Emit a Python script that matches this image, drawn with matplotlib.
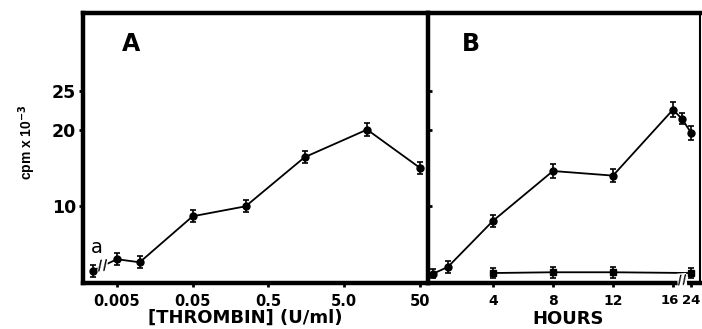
import numpy as np
import matplotlib
matplotlib.use("Agg")
import matplotlib.pyplot as plt
from matplotlib.transforms import offset_copy

plt.rcParams["font.family"] = ["DejaVu Sans"]
plt.rcParams["font.weight"] = "bold"

# panel A: dose response (0 = unstimulated control, point "a")
thrombin = [0, 0.005, 0.01, 0.05, 0.25, 1.5, 10, 50]
cpm_a = [1.6, 3.1, 2.7, 8.7, 10.0, 16.4, 20.0, 15.0]
err_a = [0.8, 0.8, 0.8, 0.8, 0.8, 0.8, 0.8, 0.8]
a_ticks = [0.005, 0.05, 0.5, 5.0, 50]
a_ticklabels = ["0.005", "0.05", "0.5", "5.0", "50"]

# panel B: time course
hours = [0, 1, 4, 8, 12, 16, 20, 24]
cpm_b = [1.2, 2.1, 8.1, 14.6, 14.0, 22.6, 21.4, 19.6]
err_b = [0.6, 0.8, 0.8, 0.9, 0.8, 1.0, 0.7, 0.9]
ctrl_hours = [4, 8, 12, 24]
ctrl_b = [1.3, 1.4, 1.4, 1.3]
ctrl_err = [0.7, 0.7, 0.7, 0.7]
b_ticks = [4, 8, 12, 16, 24]

y_ticks = [10, 20, 25]


def pos_a(c):
    # log scale with the zero control pushed left of an axis break
    c = np.asarray(c, dtype=float)
    return np.where(c > 0, np.log10(np.where(c > 0, c, 1)), -2.62)


def pos_b(h):
    # hours axis is broken after 16 h
    h = np.asarray(h, dtype=float)
    return np.where(h <= 16, h, 16 + (h - 16) * 0.15)


fig = plt.figure(figsize=(7.02, 3.29), dpi=100)
axA = fig.add_axes([83 / 702, 1 - 283 / 329, (428 - 83) / 702, (283 - 13) / 329])
axB = fig.add_axes([428 / 702, 1 - 283 / 329, (700 - 428) / 702, (283 - 13) / 329])
axB.patch.set_alpha(0)

for ax in (axA, axB):
    ax.set_ylim(0, 35.2)
    for s in ("left", "bottom", "top", "right"):
        ax.spines[s].set_linewidth(3.2)
    ax.tick_params(axis="both", length=3, width=2)

# ---- panel A
xa = pos_a(thrombin)
axA.errorbar(xa, cpm_a, yerr=err_a, fmt="o", color="k", ms=5, capsize=2.5,
             elinewidth=1.2, capthick=1.2)
axA.plot(xa, cpm_a, color="k", lw=1.3)
axA.text(xa[0] - 0.02, cpm_a[0] + 2.3, "a", fontsize=14, fontweight="normal")
axA.text((xa[0] + xa[1]) / 2 - 0.03, (cpm_a[0] + cpm_a[1]) / 2, "//", fontsize=10,
         ha="center", va="center", rotation=5,
         bbox=dict(fc="white", ec="none", pad=0.1))
axA.set_xlim(-2.748, 1.804)
axA.set_xticks(pos_a(a_ticks))
axA.set_xticklabels(a_ticklabels, fontsize=10.5)
axA.set_yticks(y_ticks)
axA.set_yticklabels([str(v) for v in y_ticks], fontsize=12.5)
axA.tick_params(axis="x", pad=5)
axA.tick_params(axis="y", pad=2)
axA.text(0.112, 0.86, "A", transform=axA.transAxes, fontsize=17, fontweight="bold")

# ---- panel B
xb = pos_b(hours)
axB.errorbar(xb, cpm_b, yerr=err_b, fmt="o-", color="k", ms=5, capsize=2.5,
             elinewidth=1.2, capthick=1.2, lw=1.3)
xc = pos_b(ctrl_hours)
axB.errorbar(xc, ctrl_b, yerr=ctrl_err, fmt="s-", color="k", ms=4, capsize=2.5,
             elinewidth=1.2, capthick=1.2, lw=1.3)
axB.text(float(pos_b(20)), 0.4, "//", fontsize=9, ha="center", va="center",
         rotation=5, bbox=dict(fc="white", ec="none", pad=0.1))
axB.set_xlim(-0.33, 17.8)
axB.set_xticks(pos_b(b_ticks))
axB.set_xticklabels([str(v) for v in b_ticks], fontsize=10)
axB.set_yticks(y_ticks)
axB.tick_params(axis="y", direction="in", labelleft=False, length=3)
axB.tick_params(axis="x", pad=5)
axB.spines["left"].set_visible(False)
axB.spines["right"].set_linewidth(1.5)
axB.text(0.125, 0.86, "B", transform=axB.transAxes, fontsize=17, fontweight="bold")

# squeeze the last two hour labels apart a little, like the original
labs = axB.get_xticklabels()
labs[-2].set_fontsize(9.5)
labs[-1].set_fontsize(9.5)
labs[-2].set_transform(offset_copy(labs[-2].get_transform(), fig=fig, x=-3, units="dots"))
labs[-1].set_transform(offset_copy(labs[-1].get_transform(), fig=fig, x=0, units="dots"))

fig.text(245 / 702, 1 - 318 / 329, "[THROMBIN] (U/ml)", ha="center", va="center",
         fontsize=13, fontweight="bold")
fig.text(568 / 702, 1 - 319 / 329, "HOURS", ha="center", va="center",
         fontsize=13, fontweight="bold")
fig.text(27 / 702, 1 - 142 / 329, r"cpm x 10$^{\mathbf{-3}}$", rotation=90,
         ha="center", va="center", fontsize=10, fontweight="bold",
         family="Liberation Sans")

fig.savefig("out.png", dpi=100)
